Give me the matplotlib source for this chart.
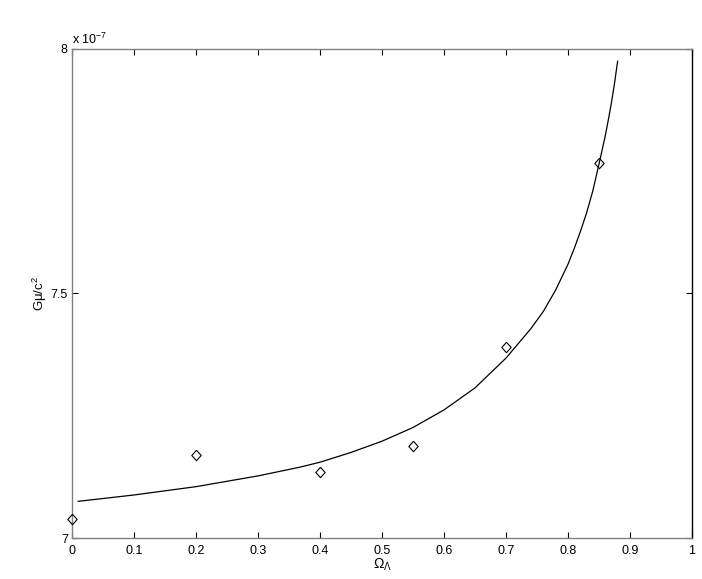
import numpy as np
import matplotlib
matplotlib.use("Agg")
import matplotlib.pyplot as plt

plt.rcParams['font.family'] = ['Liberation Sans', 'DejaVu Sans']
plt.rcParams['mathtext.fontset'] = 'custom'
plt.rcParams['mathtext.rm'] = 'Liberation Sans'
plt.rcParams['mathtext.it'] = 'Liberation Sans'

# ----- Data (y in units of 1e-7) -----
omega_pts = [0.0, 0.2, 0.4, 0.55, 0.7, 0.85]
gmu_pts = [7.038, 7.170, 7.134, 7.189, 7.390, 7.766]

omega_fit = [0.01, 0.1, 0.2, 0.3, 0.368, 0.4, 0.45, 0.5, 0.55, 0.6, 0.65,
             0.7, 0.74, 0.76, 0.78, 0.8, 0.81, 0.82, 0.83, 0.84, 0.85,
             0.86, 0.865, 0.87, 0.875, 0.88]
gmu_fit = [7.075, 7.088, 7.105, 7.127, 7.145, 7.155, 7.175, 7.198, 7.226, 7.262, 7.307,
           7.368, 7.428, 7.463, 7.507, 7.560, 7.592, 7.627, 7.665, 7.710, 7.765,
           7.822, 7.855, 7.890, 7.930, 7.975]

x_ticks = np.round(np.arange(0, 1.01, 0.1), 1)
x_ticklabels = ['0', '0.1', '0.2', '0.3', '0.4', '0.5', '0.6', '0.7', '0.8', '0.9', '1']
y_ticks = [7.0, 7.5, 8.0]
y_ticklabels = ['7', '7.5', '8']

# MATLAB-like diamond (slightly narrower than tall)
diamond = [(0, 1), (0.9, 0), (0, -1), (-0.9, 0), (0, 1)]

# ----- Plotting -----
fig = plt.figure(figsize=(7.02, 5.79), dpi=100)
ax = fig.add_axes([0.1026, 0.0708, 0.8832, 0.8446])

ax.plot(omega_fit, gmu_fit, color='black', linewidth=0.9)
ax.plot(omega_pts, gmu_pts, linestyle='none', marker=diamond, markersize=7.5,
        markerfacecolor='none', markeredgecolor='black', markeredgewidth=0.8,
        clip_on=False, zorder=3)

ax.set_xlim(0, 1)
ax.set_ylim(7, 8)
ax.set_xticks(x_ticks)
ax.set_xticklabels(x_ticklabels)
ax.set_yticks(y_ticks)
ax.set_yticklabels(y_ticklabels)
ax.tick_params(direction='in', length=4, width=0.8, top=True, right=True,
               labelsize=9, pad=3, color='black')
ax.tick_params(axis='x', pad=5)

for side in ['left', 'top', 'bottom']:
    ax.spines[side].set_color('#808080')
    ax.spines[side].set_linewidth(1.0)
ax.spines['right'].set_color('black')
ax.spines['right'].set_linewidth(1.0)

ax.text(0.0, 1.004, r'x 10$^{-7}$', transform=ax.transAxes, fontsize=9,
        ha='left', va='bottom')
ax.set_xlabel(r'$\Omega_{\Lambda}$', fontsize=10, labelpad=0)
ax.set_ylabel(r'G$\mu$/c$^2$', fontsize=9.5, labelpad=1)

fig.savefig("out.png", dpi=100)
